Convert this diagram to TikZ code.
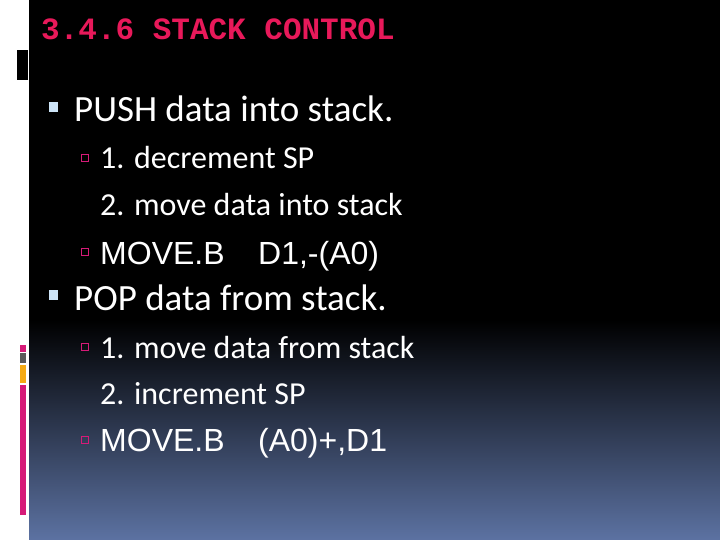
\documentclass[tikz,border=0pt]{standalone}
\usepackage{fontspec}
\setmainfont{Carlito}
\newfontfamily\arialfont{Liberation Sans}
\setmonofont{Liberation Mono}
\definecolor{titlepink}{RGB}{232,25,90}
\definecolor{barpink}{RGB}{214,26,120}
\definecolor{bargray}{RGB}{90,90,90}
\definecolor{barorange}{RGB}{245,170,20}
\definecolor{bulletblue}{RGB}{205,228,247}
\definecolor{bottomblue}{RGB}{92,114,162}
\begin{document}
\begin{tikzpicture}[x=1pt,y=-1pt]
\tikzset{MainText/.style = {anchor=base west, text=white, inner sep=0pt, font=\fontsize{37}{39}\selectfont},
 SubText/.style = {anchor=base west, text=white, inner sep=0pt, font=\fontsize{32}{34}\selectfont},
 CodeText/.style = {anchor=base west, text=white, inner sep=0pt, font=\arialfont\fontsize{32}{34}\selectfont},
 MainBullet/.style = {fill=bulletblue},
 SubBullet/.style = {draw=barpink, line width=0.8pt}}

\useasboundingbox (0,0) rectangle (720,540);
\fill[white] (0,0) rectangle (720,540);
\fill[black] (29,0) rectangle (720,540);
\shade[top color=black, bottom color=bottomblue] (29,320) rectangle (720,540);

% side bars
\fill[black] (17,50) rectangle (28,80);
\fill[barpink] (20,345) rectangle (26,352);
\fill[bargray] (20,353) rectangle (26,363);
\fill[barorange] (20,365) rectangle (26,383);
\fill[barpink] (20,385) rectangle (26,515);

\node[anchor=base west, inner sep=0pt, text=titlepink, font=\ttfamily\bfseries\fontsize{31}{33}\selectfont] (title) at (41,40) {3.4.6 STACK CONTROL};

\node[MainText] (push) at (74,122) {PUSH data into stack.};
\node[SubText] (push1) at (100,169) {1. decrement SP};
\node[SubText] (push2) at (100,215) {2. move data into stack};
\node[CodeText] (pushcode) at (100,264) {MOVE.B};
\node[CodeText] (pushargs) at (258,264) {D1,-(A0)};
\node[MainText] (pop) at (74,310) {POP data from stack.};
\node[SubText] (pop1) at (100,358) {1. move data from stack};
\node[SubText] (pop2) at (100,404) {2. increment SP};
\node[CodeText] (popcode) at (100,451) {MOVE.B};
\node[CodeText] (popargs) at (258,451) {(A0)+,D1};

% bullets
\foreach \y in {102,290} \fill[MainBullet] (49,\y) rectangle (58,\y+10);
\foreach \y in {154,248,343,436} \draw[SubBullet] (81,\y) rectangle (88,\y+7);
\end{tikzpicture}
\end{document}
